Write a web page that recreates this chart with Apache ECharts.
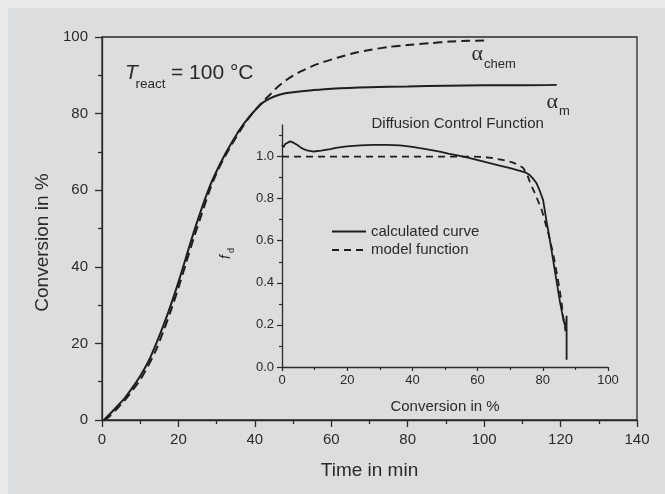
<!DOCTYPE html>
<html>
<head>
<meta charset="utf-8">
<script src="https://cdn.jsdelivr.net/npm/echarts@6/dist/echarts.min.js"></script>
<style>
  html, body { margin: 0; padding: 0; background: #eaeaea; }
  #wrap { position: relative; width: 665px; height: 494px; }
  #bg { position: absolute; left: 8px; top: 8px; right: 0; bottom: 0; background: #dcdddf; }
  #chart { position: absolute; left: 0; top: 0; width: 665px; height: 494px; }
</style>
</head>
<body>
<div id="wrap"><div id="bg"></div><div id="chart"></div></div>
<script>
// ---- main plot: conversion vs time ----
const timeM = [0.5, 2, 4, 6, 8, 10, 12, 14, 16, 18, 20, 22, 24, 26, 28, 30, 32, 34, 36, 38, 40, 42, 44, 46, 48, 50, 55, 60, 70, 80, 90, 100, 110, 119];
const alphaM = [0, 1.5, 3.6, 5.8, 8.5, 11.5, 15, 19.5, 24.5, 30, 36, 42.5, 49, 55, 60.5, 65, 69, 72.5, 75.8, 78.5, 80.8, 82.8, 84, 84.8, 85.3, 85.6, 86.1, 86.5, 86.9, 87.1, 87.3, 87.4, 87.4, 87.5];
const timeChem = [0.5, 2, 4, 6, 8, 10, 12, 14, 16, 18, 20, 22, 24, 26, 28, 30, 32, 34, 36, 38, 40, 42, 44, 46, 48, 50, 52, 55, 58, 62, 66, 70, 75, 80, 86, 91, 96, 100];
const alphaChem = [0, 1, 3, 5.2, 7.8, 10.5, 14, 18, 23, 28.5, 34.5, 41, 47.5, 53.5, 59.5, 64.5, 68.5, 72, 75.3, 78.3, 80.8, 83, 85, 87, 88.6, 89.9, 91, 92.4, 93.5, 94.7, 95.8, 96.6, 97.4, 97.9, 98.4, 98.8, 99, 99.1];
// ---- inset: diffusion control function ----
const convCalc = [0, 0.5, 1, 1.5, 2.5, 3.5, 4.6, 6, 7.7, 9.7, 12, 14.8, 17, 19.9, 24, 28, 32, 36.2, 40, 42.3, 45, 48.4, 51, 54.6, 57, 60.7, 64, 66.8, 70, 73, 75, 76, 77, 78.1, 79, 80.1, 81.1, 82.2, 83.2, 84.2, 85.2, 86.2, 86.7, 87.1, 87.3, 87.3, 87.3];
const fdCalc = [1.055, 1.045, 1.06, 1.068, 1.072, 1.066, 1.056, 1.04, 1.029, 1.024, 1.028, 1.035, 1.042, 1.048, 1.053, 1.056, 1.056, 1.053, 1.046, 1.04, 1.033, 1.024, 1.014, 1.003, 0.995, 0.981, 0.968, 0.957, 0.945, 0.932, 0.922, 0.912, 0.895, 0.873, 0.84, 0.793, 0.697, 0.601, 0.506, 0.41, 0.315, 0.235, 0.203, 0.19, 0.243, 0.15, 0.035];
const convModel = [0, 10, 20, 40, 57, 62, 64.8, 68, 70.9, 72.5, 74, 75.2, 76.3, 77.6, 79.7, 81.7, 83.2, 84.7, 85.7, 86.4, 87];
const fdModel = [1, 1, 1, 1, 1, 0.998, 0.992, 0.983, 0.971, 0.96, 0.946, 0.915, 0.868, 0.825, 0.745, 0.634, 0.538, 0.41, 0.315, 0.219, 0.17];
// tick labels
const mainXTicks = [0, 20, 40, 60, 80, 100, 120, 140];
const mainYTicks = [0, 20, 40, 60, 80, 100];
const insetYMajor = [0, 0.2, 0.4, 0.6, 0.8, 1.0];
const insetYMinor = [0.1, 0.3, 0.5, 0.7, 0.9, 1.1];

const zip = (a, b) => a.map((v, i) => [v, b[i]]);
const FONT = 'Liberation Sans, Arial, sans-serif';
const SERIF = 'Liberation Serif, Times New Roman, serif';
const INK = '#1e1e1e';
const AX = '#2a2a2a';

const chart = echarts.init(document.getElementById('chart'), null, { renderer: 'canvas' });
const axisLine = { show: true, onZero: false, lineStyle: { color: AX, width: 1.3 } };

chart.setOption({
  backgroundColor: 'transparent',
  animation: false,
  textStyle: { fontFamily: FONT },
  grid: [
    { left: 102, right: 28, top: 37, bottom: 74, show: true, borderColor: AX, borderWidth: 1.3, backgroundColor: 'transparent', containLabel: false },
    { left: 282, right: 57, top: 125, bottom: 127, containLabel: false }
  ],
  xAxis: [
    { type: 'value', gridIndex: 0, min: mainXTicks[0], max: mainXTicks[mainXTicks.length - 1], interval: 20,
      axisLine, splitLine: { show: false },
      axisTick: { length: 7, lineStyle: { color: AX, width: 1.3 } },
      minorTick: { show: true, splitNumber: 2, length: 4, lineStyle: { color: AX, width: 1.3 } },
      axisLabel: { fontSize: 15, margin: 12, color: AX, fontFamily: FONT },
      name: 'Time in min', nameLocation: 'middle', nameGap: 41,
      nameTextStyle: { fontSize: 19, color: AX, fontFamily: FONT } },
    { type: 'value', gridIndex: 1, min: 0, max: 100, interval: 20,
      axisLine, splitLine: { show: false },
      axisTick: { length: 4, lineStyle: { color: AX, width: 1.2 } },
      minorTick: { show: true, splitNumber: 2, length: 3, lineStyle: { color: AX, width: 1.2 } },
      axisLabel: { fontSize: 13, margin: 7, color: AX, fontFamily: FONT },
      name: 'Conversion in %', nameLocation: 'middle', nameGap: 32,
      nameTextStyle: { fontSize: 15, color: AX, fontFamily: FONT } }
  ],
  yAxis: [
    { type: 'value', gridIndex: 0, min: mainYTicks[0], max: mainYTicks[mainYTicks.length - 1], interval: 20,
      axisLine, splitLine: { show: false },
      axisTick: { length: 7, lineStyle: { color: AX, width: 1.3 } },
      minorTick: { show: true, splitNumber: 2, length: 4, lineStyle: { color: AX, width: 1.3 } },
      axisLabel: { fontSize: 15, margin: 14, color: AX, fontFamily: FONT },
      name: 'Conversion in %', nameLocation: 'middle', nameGap: 50, nameRotate: 90,
      nameTextStyle: { fontSize: 19, color: AX, fontFamily: FONT, padding: [0, 28, 0, 0] } },
    { type: 'value', gridIndex: 1, min: 0, max: 1.15,
      axisLine, splitLine: { show: false },
      axisTick: { customValues: insetYMajor, length: 5, lineStyle: { color: AX, width: 1.2 } },
      axisLabel: { customValues: insetYMajor, fontSize: 13, margin: 8, color: AX, fontFamily: FONT,
        formatter: v => Number(v).toFixed(1) } },
    { type: 'value', gridIndex: 1, min: 0, max: 1.15, position: 'left',
      axisLine: { show: false }, splitLine: { show: false },
      axisTick: { show: true, customValues: insetYMinor, length: 3, lineStyle: { color: AX, width: 1.2 } },
      axisLabel: { show: false } }
  ],
  legend: {
    data: ['calculated curve', 'model function'],
    left: 326, top: 219, orient: 'vertical',
    itemWidth: 34, itemHeight: 14, itemGap: 3.5,
    itemStyle: { opacity: 0 },
    textStyle: { fontSize: 15, color: AX, fontFamily: FONT, lineHeight: 14 },
    inactiveColor: '#999'
  },
  series: [
    { name: 'alpha_m', type: 'line', xAxisIndex: 0, yAxisIndex: 0, data: zip(timeM, alphaM),
      symbol: 'none', smooth: 0.3, lineStyle: { color: INK, width: 2 }, z: 3 },
    { name: 'alpha_chem', type: 'line', xAxisIndex: 0, yAxisIndex: 0, data: zip(timeChem, alphaChem),
      symbol: 'none', smooth: 0.3, lineStyle: { color: INK, width: 2, type: [9, 5] }, z: 3 },
    { name: 'calculated curve', type: 'line', xAxisIndex: 1, yAxisIndex: 1, data: zip(convCalc, fdCalc),
      symbol: 'none', smooth: false, itemStyle: { color: INK }, lineStyle: { color: INK, width: 1.8 }, z: 3 },
    { name: 'model function', type: 'line', xAxisIndex: 1, yAxisIndex: 1, data: zip(convModel, fdModel),
      symbol: 'none', smooth: false, itemStyle: { color: INK }, lineStyle: { color: INK, width: 1.8, type: [7, 5] }, z: 3 }
  ],
  graphic: [
    { type: 'text', x: 125, y: 73, style: { text: 'T', fontSize: 21, fontStyle: 'italic', fontFamily: FONT, fill: AX, align: 'left', verticalAlign: 'middle' } },
    { type: 'text', x: 135.5, y: 84, style: { text: 'react', fontSize: 13.5, fontFamily: FONT, fill: AX, align: 'left', verticalAlign: 'middle' } },
    { type: 'text', x: 171, y: 73, style: { text: '= 100 °C', fontSize: 21, fontFamily: FONT, fill: AX, align: 'left', verticalAlign: 'middle' } },
    { type: 'text', x: 471.5, y: 54, style: { text: 'α', fontSize: 22, fontFamily: SERIF, fill: AX, align: 'left', verticalAlign: 'middle' } },
    { type: 'text', x: 484, y: 64, style: { text: 'chem', fontSize: 13, fontFamily: FONT, fill: AX, align: 'left', verticalAlign: 'middle' } },
    { type: 'text', x: 546.5, y: 102, style: { text: 'α', fontSize: 22, fontFamily: SERIF, fill: AX, align: 'left', verticalAlign: 'middle' } },
    { type: 'text', x: 559, y: 111.5, style: { text: 'm', fontSize: 13, fontFamily: FONT, fill: AX, align: 'left', verticalAlign: 'middle' } },
    { type: 'text', x: 371.5, y: 124, style: { text: 'Diffusion Control Function', fontSize: 15, fontFamily: FONT, fill: AX, align: 'left', verticalAlign: 'middle' } },
    { type: 'text', x: 226, y: 257, rotation: Math.PI / 2, style: { text: 'f', fontSize: 14, fontStyle: 'italic', fontFamily: FONT, fill: AX, align: 'center', verticalAlign: 'middle' } },
    { type: 'text', x: 232, y: 250.5, rotation: Math.PI / 2, style: { text: 'd', fontSize: 9, fontFamily: FONT, fill: AX, align: 'center', verticalAlign: 'middle' } }
  ]
});
</script>
</body>
</html>
